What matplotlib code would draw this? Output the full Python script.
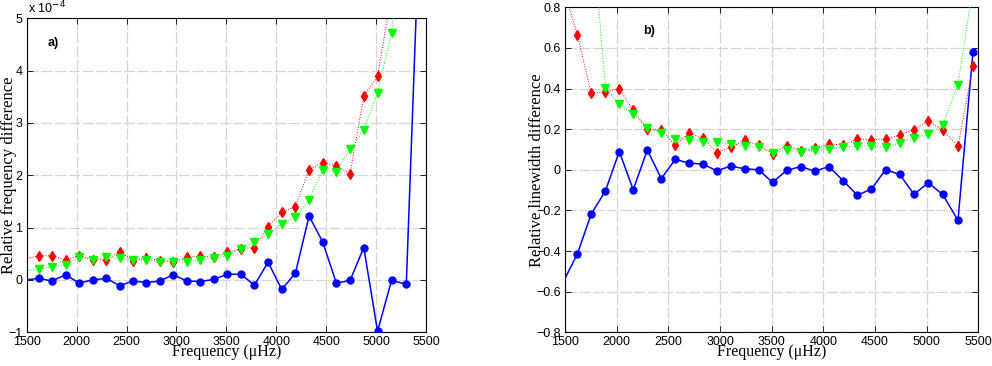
import matplotlib
matplotlib.use("Agg")
import matplotlib.pyplot as plt

# --- DATA ---
# mode frequencies in microHz; first entry lies just left of the axis
freqs = [1485, 1620, 1753, 1890, 2025, 2160, 2296, 2432, 2566, 2700, 2834,
         2968, 3103, 3238, 3374, 3508, 3645, 3781, 3918, 4055, 4192,
         4329, 4465, 4602, 4740, 4877, 5015, 5155, 5303, 5448]

# panel a: relative frequency difference, in units of 1e-4
freq_blue = [0.0, 0.03, -0.02, 0.10, -0.06, 0.0, 0.03, -0.11, -0.02, -0.05, -0.02,
             0.10, -0.02, -0.03, 0.01, 0.11, 0.11, -0.10, 0.34, -0.18, 0.13,
             1.22, 0.73, -0.06, -0.01, 0.62, -0.98, -0.01, -0.08, 7.5]
freq_red = [0.405, 0.46, 0.465, 0.38, 0.465, 0.39, 0.38, 0.54, 0.37, 0.42, 0.37,
            0.35, 0.43, 0.465, 0.43, 0.53, 0.60, 0.62, 1.02, 1.29, 1.40,
            2.11, 2.24, 2.18, 2.03, 3.51, 3.89, 5.47, 6.6, 8.5]
freq_green = [0.18, 0.20, 0.25, 0.29, 0.43, 0.39, 0.43, 0.41, 0.39, 0.38, 0.35,
              0.34, 0.34, 0.38, 0.41, 0.46, 0.60, 0.73, 0.87, 1.07, 1.21,
              1.53, 2.10, 2.07, 2.50, 2.87, 3.58, 4.71, 7.2, 9.5]

# panel b: relative linewidth difference
lw_blue = [-0.55, -0.413, -0.218, -0.105, 0.09, -0.098, 0.097, -0.043, 0.051, 0.033, 0.028,
           -0.005, 0.018, 0.005, 0.0, -0.062, -0.003, 0.016, -0.007, 0.016, -0.054,
           -0.125, -0.095, 0.0, -0.023, -0.121, -0.064, -0.121, -0.249, 0.579]
lw_red = [0.90, 0.662, 0.377, 0.384, 0.40, 0.292, 0.202, 0.195, 0.121, 0.18, 0.157,
          0.085, 0.11, 0.146, 0.12, 0.08, 0.118, 0.093, 0.105, 0.128, 0.121,
          0.151, 0.149, 0.151, 0.17, 0.198, 0.241, 0.197, 0.115, 0.511]
lw_green = [2.0, 1.7, 1.25, 0.403, 0.325, 0.275, 0.208, 0.18, 0.154, 0.148, 0.138,
            0.136, 0.128, 0.118, 0.111, 0.085, 0.095, 0.09, 0.097, 0.103, 0.111,
            0.116, 0.118, 0.111, 0.131, 0.157, 0.174, 0.22, 0.418, 0.90]

xticks = [1500, 2000, 2500, 3000, 3500, 4000, 4500, 5000, 5500]
yticks_a = [-1, 0, 1, 2, 3, 4, 5]
yticks_b = [-0.8, -0.6, -0.4, -0.2, 0, 0.2, 0.4, 0.6, 0.8]

TICK_FONT = "Liberation Sans"
LABEL_FONT = "Liberation Serif"


def minus(s):
    return s.replace("-", "\u2212")


def style_axes(ax, yticks, ylabels, xlab_y):
    ax.set_xlim(1500, 5500)
    ax.set_xticks(xticks)
    ax.set_yticks(yticks)
    ax.set_yticklabels(ylabels)
    ax.grid(True, color="#d4d4d4", linestyle=(0, (9, 2)), linewidth=0.9)
    ax.set_axisbelow(True)
    ax.tick_params(direction="in", top=True, right=True, length=4, width=0.6,
                   labelsize=9, pad=3)
    for lab in ax.get_xticklabels() + ax.get_yticklabels():
        lab.set_fontfamily(TICK_FONT)
    for sp in ax.spines.values():
        sp.set_linewidth(0.8)
        sp.set_color("black")
    ax.set_xlabel("Frequency (\u03bcHz)", fontfamily=LABEL_FONT, fontsize=11.5,
                  va="baseline")
    ax.xaxis.set_label_coords(0.5, xlab_y)


def draw_series(ax, blue, red, green):
    ax.plot(freqs, blue, "-o", color="blue", lw=1.1, ms=5, markevery=slice(1, None),
            zorder=3)
    ax.plot(freqs, red, ":d", color="red", lw=0.7, ms=5, markevery=slice(1, None),
            zorder=4)
    ax.plot(freqs, green, ":v", color="#00ff00", lw=0.7, ms=5.5,
            markevery=slice(1, None), zorder=5)


fig = plt.figure(figsize=(9.92, 3.66), dpi=100)

# --- panel a ---
ax1 = fig.add_axes([0.0269, 0.0921, 0.4025, 0.858])
draw_series(ax1, freq_blue, freq_red, freq_green)
ax1.set_ylim(-1, 5)
style_axes(ax1, yticks_a, [minus(str(v)) for v in yticks_a], -0.0755)
ax1.set_ylabel("Relative frequency difference", fontfamily=LABEL_FONT, fontsize=12)
ax1.yaxis.set_label_coords(-0.025, 0.5)
ax1.text(0.003, 1.005, "x 10$^{-4}$", transform=ax1.transAxes, fontfamily=TICK_FONT,
         fontsize=9, va="bottom", ha="left")
ax1.text(1713, 4.53, "a)", fontfamily=TICK_FONT, fontweight="bold", fontsize=9,
         va="center", ha="left")

# --- panel b ---
ax2 = fig.add_axes([0.5696, 0.0921, 0.4166, 0.888])
draw_series(ax2, lw_blue, lw_red, lw_green)
ax2.set_ylim(-0.8, 0.8)
style_axes(ax2, yticks_b, ["0" if v == 0 else minus(f"{v:.1f}") for v in yticks_b],
           -0.073)
ax2.set_ylabel("Relative linewidth difference", fontfamily=LABEL_FONT, fontsize=12)
ax2.yaxis.set_label_coords(-0.048, 0.5)
ax2.text(2252, 0.685, "b)", fontfamily=TICK_FONT, fontweight="bold", fontsize=9,
         va="center", ha="left")

fig.savefig("out.png", dpi=100)
